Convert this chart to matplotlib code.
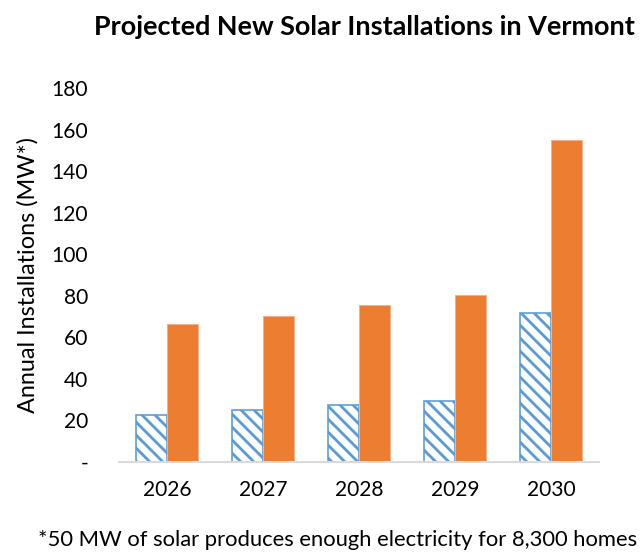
import matplotlib
matplotlib.use("Agg")
import matplotlib.pyplot as plt
import numpy as np

years = ["2026", "2027", "2028", "2029", "2030"]
current_pace = [22.5, 25, 27.5, 29.5, 71.5]
needed_pace = [66.5, 70.5, 75.5, 80.5, 155]
y_ticks = [0, 20, 40, 60, 80, 100, 120, 140, 160, 180]
y_tick_labels = ["-", "20", "40", "60", "80", "100", "120", "140", "160", "180"]

# low dpi so the hatch tile (1 inch) gives stripes ~13px apart
DPI = 78


def px(v):
    # pixel size -> points at this dpi
    return v * 72.0 / DPI


plt.rcParams["font.family"] = ["Lato", "DejaVu Sans"]
plt.rcParams["hatch.linewidth"] = px(2.8)
plt.rcParams["hatch.color"] = "#5B9BD5"

fig = plt.figure(figsize=(642 / DPI, 554 / DPI), dpi=DPI)
ax = fig.add_axes([0.1854, 0.166, 0.7476, 0.675])

x = np.arange(len(years))
w = 0.32
ax.bar(x - w / 2, current_pace, w, facecolor="white", edgecolor="#5B9BD5",
       hatch="\\" * 2, linewidth=px(1.6))
ax.bar(x + w / 2, needed_pace, w, color="#ED7D31", edgecolor="#F4B183", linewidth=px(1.0))

ax.set_xlim(-0.5, len(years) - 0.5)
ax.set_ylim(0, 180)
ax.set_yticks(y_ticks)
ax.set_yticklabels(y_tick_labels)
ax.set_xticks(x)
ax.set_xticklabels(years)
ax.tick_params(axis="both", length=0, labelsize=px(21), colors="black")
ax.tick_params(axis="y", pad=px(31))
ax.tick_params(axis="x", pad=px(18))
for lbl in ax.get_yticklabels():
    lbl.set_horizontalalignment("right")

for s in ["top", "right", "left"]:
    ax.spines[s].set_visible(False)
ax.spines["bottom"].set_color("#D9D9D9")
ax.spines["bottom"].set_linewidth(px(2))

ax.set_ylabel("Annual Installations (MW*)", fontsize=px(23.5), labelpad=px(13))
fig.text(0.568, 0.951, "Projected New Solar Installations in Vermont",
         ha="center", va="center", fontsize=px(27), fontweight="bold")
fig.text(0.526, 0.025, "*50 MW of solar produces enough electricity for 8,300 homes",
         ha="center", va="center", fontsize=px(22))

fig.savefig("out.png", dpi=DPI)
